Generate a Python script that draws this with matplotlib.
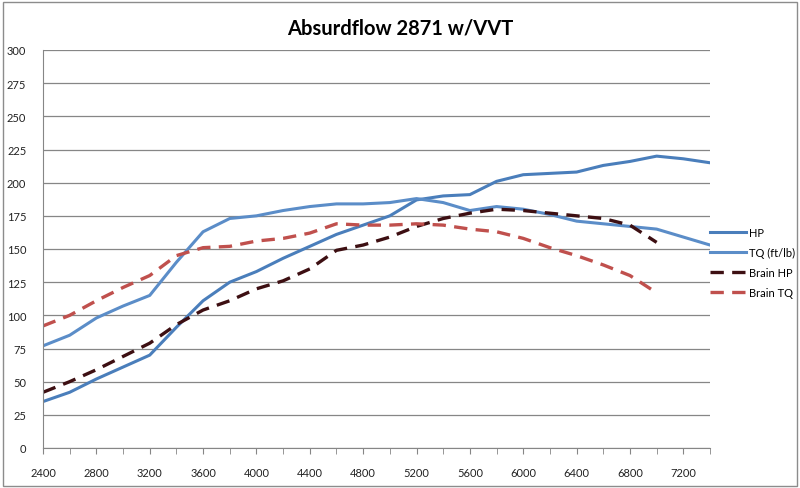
import numpy as np
import matplotlib
matplotlib.use("Agg")
import matplotlib.pyplot as plt
from matplotlib.patches import Rectangle

plt.rcParams["font.family"] = ["Lato", "DejaVu Sans"]

rpm = [2400, 2600, 2800, 3000, 3200, 3400, 3600, 3800, 4000, 4200, 4400, 4600, 4800,
       5000, 5200, 5400, 5600, 5800, 6000, 6200, 6400, 6600, 6800, 7000, 7200, 7400]
hp = [35, 42, 52, 61, 70, 91, 111, 125, 133, 143, 152, 161, 168,
      175, 187, 190, 191, 201, 206, 207, 208, 213, 216, 220, 218, 215]
tq = [77, 85, 98, 107, 115, 140, 163, 173, 175, 179, 182, 184, 184,
      185, 188, 185, 179, 182, 180, 176, 171, 169, 167, 165, 159, 153]
# brain numbers stop at 7000
brain_rpm = rpm[:24]
brain_hp = [42, 50, 59, 69, 79, 93, 104, 111, 120, 126, 135, 149, 153,
            159, 167, 173, 177, 180, 179, 177, 175, 173, 168, 155]
brain_tq = [92, 100, 111, 121, 130, 145, 151, 152, 156, 158, 162, 169, 168,
            168, 169, 168, 165, 163, 158, 151, 145, 138, 130, 117]

fig = plt.figure(figsize=(8, 4.89), dpi=100)
ax = fig.add_axes([43 / 800, 40 / 489, 667 / 800, 398 / 489])

# outer chart border
fig.patches.append(Rectangle((0.004, 0.004), 0.992, 0.99, transform=fig.transFigure,
                             fill=False, edgecolor="#8c8c8c", linewidth=1))

ax.plot(rpm, hp, color="#4a7ebb", lw=2.2, label="HP")
ax.plot(rpm, tq, color="#5b8dc8", lw=2.2, label="TQ (ft/lb)")
ax.plot(brain_rpm, brain_hp, color="#3d0f12", lw=2.4, dashes=(4, 2.5), label="Brain HP")
ax.plot(brain_rpm, brain_tq, color="#c0504d", lw=2.4, dashes=(4, 2.5), label="Brain TQ")

ax.set_xlim(2400, 7400)
ax.set_ylim(0, 300)
ax.set_yticks(np.arange(0, 301, 25))
ax.set_xticks(rpm, minor=True)
ax.set_xticks(np.arange(2400, 7201, 400))
ax.tick_params(axis="y", length=0, labelsize=8, pad=12, colors="#222222")
ax.tick_params(axis="x", which="both", length=4, direction="out", color="#868686",
               labelsize=8, pad=10, labelcolor="#222222")
ax.grid(axis="y", color="#868686", lw=0.9)
ax.set_axisbelow(True)
for s in ["top", "right"]:
    ax.spines[s].set_visible(False)
for s in ["left", "bottom"]:
    ax.spines[s].set_color("#868686")

fig.suptitle("Absurdflow 2871 w/VVT", x=400 / 800, y=0.962, fontsize=14.5, fontweight="bold")

leg = fig.legend(loc="upper left", bbox_to_anchor=(700 / 800, 1 - 218 / 489), frameon=False,
                 fontsize=8, handlelength=3.2, labelspacing=0.8, handletextpad=0.3)

fig.savefig("out.png", dpi=100)
